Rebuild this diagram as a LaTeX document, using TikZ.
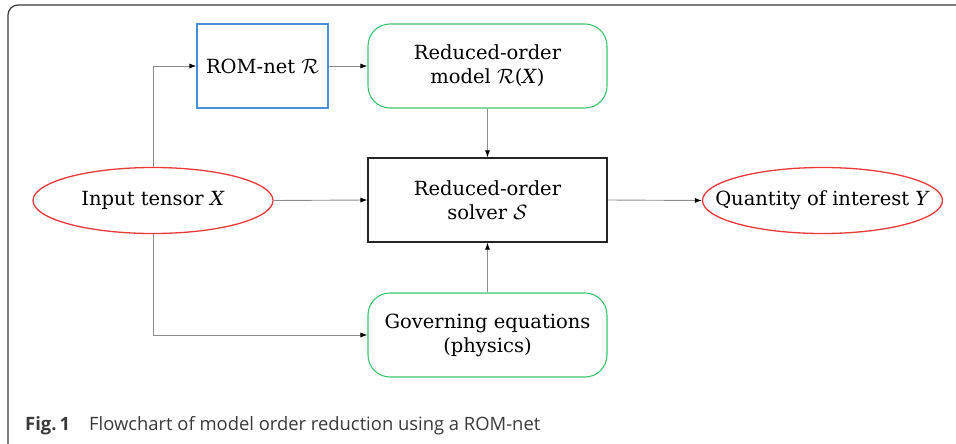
\documentclass[tikz,border=0pt]{standalone}
\usepackage{fontspec}
\setmainfont{DejaVu Serif}
\newfontfamily\capfont{Open Sans}
\usetikzlibrary{shapes.geometric,arrows.meta}
\definecolor{romblue}{HTML}{4A90D9}
\definecolor{romgreen}{HTML}{3CC46C}
\definecolor{romred}{HTML}{E83A3A}
\definecolor{linegrey}{HTML}{8C8C8C}
\definecolor{capgrey}{HTML}{3A3A3A}
\tikzset{
  base/.style={align=center, inner sep=0pt, font=\fontsize{19.5}{24}\selectfont, text=black, line width=1.1pt},
  bluebox/.style={base, draw=romblue, minimum width=131pt, minimum height=84pt},
  greenbox/.style={base, draw=romgreen, rounded corners=22pt, minimum width=239pt, minimum height=84pt},
  blackbox/.style={base, draw=black!85, minimum width=239pt, minimum height=84pt},
  redell/.style={base, ellipse, draw=romred, line width=1.3pt, inner xsep=-26pt, minimum width=240pt, minimum height=66pt},
  conn/.style={draw=linegrey, line width=0.9pt, -{Latex[length=7pt,width=5pt,black]}},
}
\begin{document}
\begin{tikzpicture}[x=1pt,y=-1pt]
\useasboundingbox (0,0) rectangle (956,444);
\begin{scope}
\clip (0,0) rectangle (956,444);
\draw[capgrey, line width=1.2pt, rounded corners=10pt] (8,5) rectangle (990,460);
\end{scope}
\node[bluebox] (rom) at (262.5,66) {ROM-net $\mathcal{R}$};
\node[greenbox] (model) at (487.5,66) {Reduced-order\\model $\mathcal{R}$(\textit{X})};
\node[blackbox] (solver) at (487.5,200) {Reduced-order\\solver $\mathcal{S}$};
\node[greenbox] (gov) at (487.5,335) {Governing equations\\(physics)};
\node[redell] (inp) at (153,200.5) {Input tensor \textit{X}};
\node[redell] (qoi) at (822.5,200.5) {Quantity of interest \textit{Y}};
\draw[conn] (inp.north) |- (rom.west);
\draw[conn] (rom.east) -- (model.west);
\draw[conn] (model.south) -- (solver.north);
\draw[conn] (inp.east) -- (solver.west);
\draw[conn] (solver.east) -- (qoi.west);
\draw[conn] (gov.north) -- (solver.south);
\draw[conn] (inp.south) |- (gov.west);
\node[anchor=base west, inner sep=0pt, font=\capfont\fontsize{18.4}{22}\selectfont, text=capgrey] (cap) at (25,430)
  {\textbf{Fig.\,1}\hspace{19pt}Flowchart of model order reduction using a ROM-net};
\end{tikzpicture}
\end{document}
